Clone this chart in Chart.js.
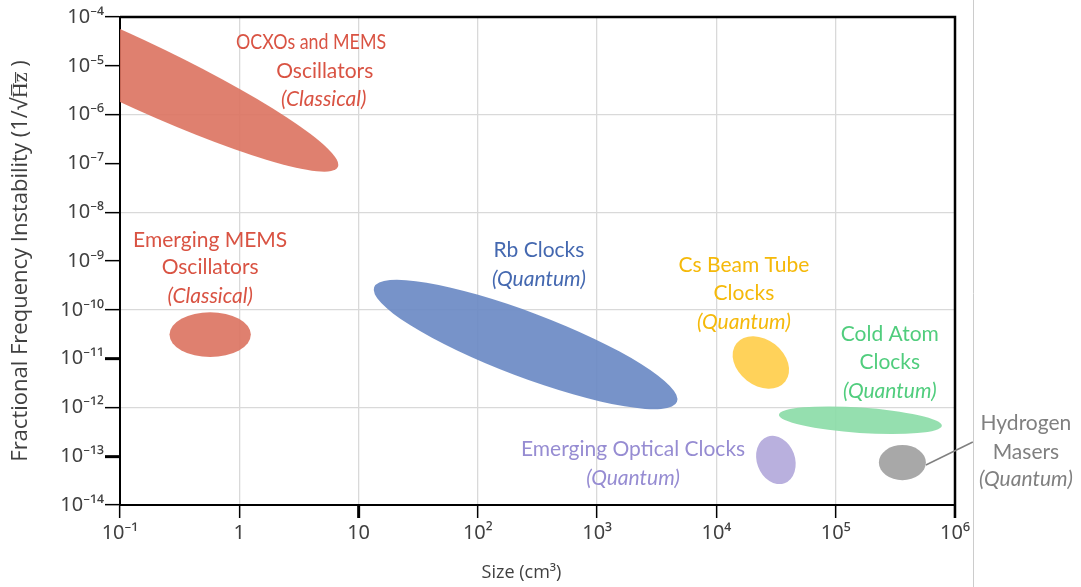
<!DOCTYPE html>
<html>
<head>
<meta charset="utf-8">
<script src="https://cdn.jsdelivr.net/npm/chart.js@4.4.0/dist/chart.umd.min.js"></script>
<style>
  html, body { margin: 0; padding: 0; background: #fff; }
  #wrap { width: 1081px; height: 587px; }
</style>
</head>
<body>
<div id="wrap"><canvas id="clockChart"></canvas></div>
<script>
// ---------------- axis ticks (one per decade) ----------------
var sizeTicks = [1e-1, 1, 10, 1e2, 1e3, 1e4, 1e5, 1e6];
var sizeTickLabels = ['10\u207B\u00B9', '1', '10', '10\u00B2', '10\u00B3', '10\u2074', '10\u2075', '10\u2076'];
var instTicks = [1e-14, 1e-13, 1e-12, 1e-11, 1e-10, 1e-9, 1e-8, 1e-7, 1e-6, 1e-5, 1e-4];
var instTickLabels = ['10\u207B\u00B9\u2074', '10\u207B\u00B9\u00B3', '10\u207B\u00B9\u00B2', '10\u207B\u00B9\u00B9', '10\u207B\u00B9\u2070',
  '10\u207B\u2079', '10\u207B\u2078', '10\u207B\u2077', '10\u207B\u2076', '10\u207B\u2075', '10\u207B\u2074'];

// ---------------- regions ----------------
// each region is an ellipse whose long axis runs from (sizeFrom, instFrom) to (sizeTo, instTo);
// spreadDecades = half thickness of the ellipse, in decades of instability
var regionNames = ['OCXOs and MEMS Oscillators', 'Emerging MEMS Oscillators', 'Rb Clocks', 'Cs Beam Tube Clocks',
  'Cold Atom Clocks', 'Emerging Optical Clocks', 'Hydrogen Masers'];
var sizeFrom = [2.2e-3, 0.26, 13.5, 14700, 33400, 26700, 230000];
var sizeTo = [6.7, 1.25, 4670, 37800, 776000, 37200, 570000];
var instFrom = [8.0e-4, 3.1e-11, 2.9e-10, 2.05e-11, 7.1e-13, 2.5e-13, 7.4e-14];
var instTo = [8.4e-8, 3.1e-11, 1.3e-12, 3.4e-12, 4.2e-13, 2.8e-14, 7.4e-14];
var spreadDecades = [0.68, 0.46, 0.66, 0.47, 0.26, 0.39, 0.36];

// ---------------- text notes (one entry per line) ----------------
var noteText = ['OCXOs and MEMS', 'Oscillators', '(Classical)',
  'Emerging MEMS', 'Oscillators', '(Classical)',
  'Rb Clocks', '(Quantum)',
  'Cs Beam Tube', 'Clocks', '(Quantum)',
  'Cold Atom', 'Clocks', '(Quantum)',
  'Emerging Optical Clocks', '(Quantum)',
  'Hydrogen', 'Masers', '(Quantum)'];
var noteSize = [4.0, 5.2, 5.1,
  0.57, 0.57, 0.57,
  325, 325,
  17000, 17000, 17000,
  284000, 284000, 284000,
  2000, 2000,
  3.93e6, 3.93e6, 3.93e6];
var noteInst = [3.1e-5, 7.8e-6, 2.1e-6,
  2.7e-9, 7.5e-10, 1.9e-10,
  1.7e-9, 4.3e-10,
  8.3e-10, 2.2e-10, 5.6e-11,
  3.2e-11, 8.5e-12, 2.1e-12,
  1.4e-13, 3.6e-14,
  4.8e-13, 1.2e-13, 3.3e-14];
var noteRegion = [0, 0, 0, 1, 1, 1, 2, 2, 3, 3, 3, 4, 4, 4, 5, 5, 6, 6, 6];

// pointer from the hydrogen maser ellipse to its label
var pointerSize = [5.7e5, 1.41e6];
var pointerInst = [6.6e-14, 1.95e-13];

// ---------------- styles ----------------
var regionColors = ['rgba(220,114,95,0.9)', 'rgba(220,114,95,0.9)', 'rgba(104,135,195,0.9)', 'rgba(255,205,72,0.9)',
  'rgba(138,220,166,0.9)', 'rgba(177,167,218,0.9)', 'rgba(158,158,158,0.9)'];
var textColors = ['#d95343', '#d95343', '#4468b0', '#f5b90a', '#50cd7d', '#968cd2', '#808080'];
var axisGray = '#404040';
var noteFont = '21px Lato';


var regionPlugin = {
  id: 'regions',
  beforeDatasetsDraw: function (chart) {
    var c = chart.ctx;
    var xs = chart.scales.x;
    var ys = chart.scales.y;
    var area = chart.chartArea;
    var decadePx = ys.getPixelForValue(1e-10) - ys.getPixelForValue(1e-9);

    c.save();
    c.beginPath();
    c.rect(area.left, area.top, area.right - area.left, area.bottom - area.top);
    c.clip();
    for (var i = 0; i < regionNames.length; i++) {
      var x1 = xs.getPixelForValue(sizeFrom[i]), y1 = ys.getPixelForValue(instFrom[i]);
      var x2 = xs.getPixelForValue(sizeTo[i]), y2 = ys.getPixelForValue(instTo[i]);
      var a = Math.hypot(x2 - x1, y2 - y1) / 2;
      var b = spreadDecades[i] * decadePx;
      c.beginPath();
      c.ellipse((x1 + x2) / 2, (y1 + y2) / 2, a, b, Math.atan2(y2 - y1, x2 - x1), 0, 2 * Math.PI);
      c.fillStyle = regionColors[i];
      c.fill();
    }
    c.restore();
  },
  afterDraw: function (chart) {
    var c = chart.ctx;
    var xs = chart.scales.x;
    var ys = chart.scales.y;
    var area = chart.chartArea;

    c.save();
    // top and right frame
    c.strokeStyle = '#000';
    c.lineWidth = 2.5;
    c.beginPath();
    c.moveTo(area.left, area.top);
    c.lineTo(area.right, area.top);
    c.lineTo(area.right, area.bottom + 13);
    c.stroke();

    // thin separator on the right
    var sepX = Math.round(xs.getPixelForValue(pointerSize[1])) + 0.5;
    c.strokeStyle = '#cccccc';
    c.lineWidth = 1;
    c.beginPath();
    c.moveTo(sepX, 0);
    c.lineTo(sepX, chart.height);
    c.stroke();

    // pointer line
    c.strokeStyle = '#808080';
    c.lineWidth = 1.5;
    c.beginPath();
    c.moveTo(xs.getPixelForValue(pointerSize[0]), ys.getPixelForValue(pointerInst[0]));
    c.lineTo(xs.getPixelForValue(pointerSize[1]), ys.getPixelForValue(pointerInst[1]));
    c.stroke();

    // x axis title (sits a bit left of the axis centre)
    c.textAlign = 'center';
    c.textBaseline = 'middle';
    c.fillStyle = axisGray;
    c.font = '18px "Open Sans"';
    c.fillText('Size (cm\u00B3)', (area.left + area.right) / 2 - 16, 573);

    // notes
    for (var i = 0; i < noteText.length; i++) {
      var italic = noteText[i].charAt(0) === '(';
      c.font = (italic ? 'italic ' : '') + noteFont;
      c.fillStyle = textColors[noteRegion[i]];
      var px = xs.getPixelForValue(noteSize[i]);
      var py = ys.getPixelForValue(noteInst[i]);
      if (i === 0) {
        c.fillText(noteText[i], px, py, 150);   // this line is set tighter in the original
      } else {
        c.fillText(noteText[i], px, py);
      }
    }
    c.restore();
  }
};


var ctx = document.getElementById('clockChart');
var clockChart = new Chart(ctx, {
  type: 'scatter',
  data: {
    datasets: regionNames.map(function (name, i) {
      return {
        label: name,
        data: [{ x: sizeFrom[i], y: instFrom[i] }, { x: sizeTo[i], y: instTo[i] }],
        pointRadius: 0,
        showLine: false
      };
    })
  },
  options: {
    responsive: true,
    maintainAspectRatio: false,
    animation: false,
    layout: { padding: { top: 17, right: 126, left: 0, bottom: 0 } },
    plugins: {
      legend: { display: false },
      tooltip: { enabled: false }
    },
    scales: {
      x: {
        type: 'logarithmic',
        min: 1e-1,
        max: 1e6,
        afterBuildTicks: function (scale) {
          scale.ticks = sizeTicks.map(function (v) { return { value: v }; });
        },
        afterFit: function (scale) { scale.height = 82; },
        ticks: {
          autoSkip: false,
          maxRotation: 0,
          padding: 3,
          color: axisGray,
          font: { family: 'Noto Sans', size: 20 },
          callback: function (value, index) { return sizeTickLabels[index]; }
        },
        grid: {
          color: function (c) { return (c.index > 0 && c.index < sizeTicks.length - 1) ? '#d9d9d9' : 'rgba(0,0,0,0)'; },
          lineWidth: 1.3,
          tickColor: '#000',
          tickLength: 13,
          tickWidth: function (c) { return c.index === 2 ? 3 : 1.5; }
        },
        border: { color: '#000', width: 2 }
      },
      y: {
        type: 'logarithmic',
        min: 1e-14,
        max: 1e-4,
        afterBuildTicks: function (scale) {
          scale.ticks = instTicks.map(function (v) { return { value: v }; });
        },
        afterFit: function (scale) { scale.width = 120; },
        ticks: {
          autoSkip: false,
          padding: 1,
          color: axisGray,
          font: { family: 'Noto Sans', size: 20 },
          callback: function (value, index) { return instTickLabels[index]; }
        },
        grid: {
          color: function (c) { return (c.index > 0 && c.index < instTicks.length - 1 && c.index % 2 === 0) ? '#d9d9d9' : 'rgba(0,0,0,0)'; },
          lineWidth: 1.3,
          tickColor: '#000',
          tickLength: 15,
          tickWidth: function (c) { return (c.index === 1 || c.index === 3) ? 3 : 1.5; }
        },
        border: { color: '#000', width: 2 },
        title: {
          display: true,
          text: 'Fractional Frequency Instability (1/\u221AH\u0305z\u0305 )',
          color: axisGray,
          font: { family: 'Open Sans', size: 22 },
          padding: { top: 8, bottom: 0 }
        }
      }
    }
  },
  plugins: [regionPlugin]
});
</script>
</body>
</html>
